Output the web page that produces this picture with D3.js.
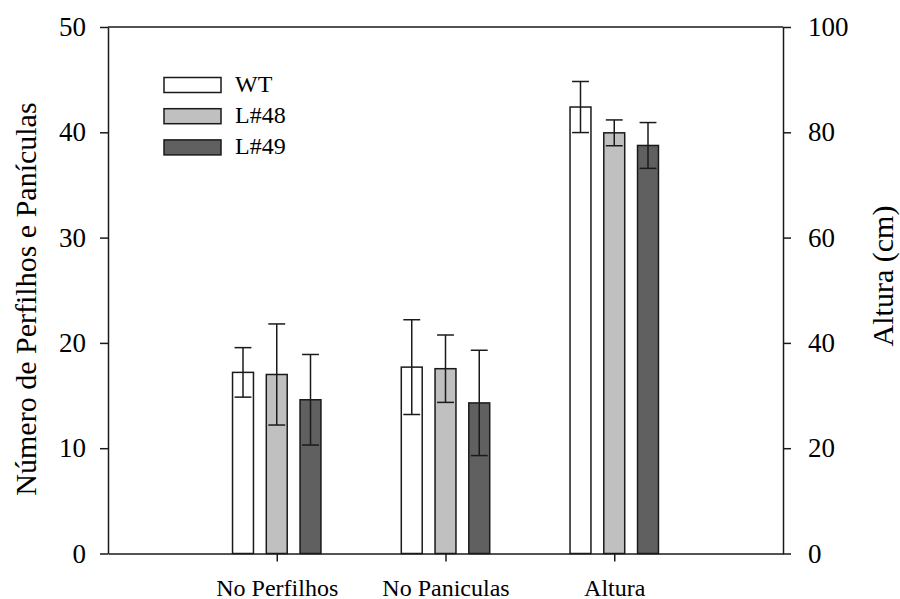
<!DOCTYPE html>
<html><head><meta charset="utf-8">
<script src="https://cdn.jsdelivr.net/npm/d3@7/dist/d3.min.js"></script>
<style>body{margin:0;background:#fff}svg{display:block}text{font-family:"Liberation Serif","Times New Roman",serif;fill:#000}</style>
</head><body><svg id="c" width="900" height="599"></svg>
<script>
const categories = ["No Perfilhos", "No Paniculas", "Altura"];
const seriesNames = ["WT", "L#48", "L#49"];
const seriesColors = ["#ffffff", "#c0c0c0", "#606060"];
const wtMeans = [17.2, 17.7, 84.8];
const wtErr = [2.35, 4.5, 4.85];
const l48Means = [17.0, 17.55, 79.9];
const l48Err = [4.8, 3.2, 2.45];
const l49Means = [14.6, 14.3, 77.5];
const l49Err = [4.3, 5.0, 4.35];
const leftTicks = [0, 10, 20, 30, 40, 50];
const rightTicks = [0, 20, 40, 60, 80, 100];
// category index 2 (Altura) is plotted on the right axis
const rightAxisCats = [false, false, true];

const svg = d3.select("#c");
const L = 108, R = 783, T = 27, B = 553.5;
const x = d3.scaleLinear().domain([0, 4]).range([L, R]);
const yL = d3.scaleLinear().domain([0, 50]).range([B, T]);
const yR = d3.scaleLinear().domain([0, 100]).range([B, T]);
const stroke = "#1a1a1a";

const means = [wtMeans, l48Means, l49Means];
const errs = [wtErr, l48Err, l49Err];
const offsets = [-0.2, 0, 0.2];
const bw = 0.124;
const capW = 0.1;

const bars = [];
categories.forEach((c, ci) => {
  seriesNames.forEach((s, si) => {
    bars.push({ci, si, m: means[si][ci], e: errs[si][ci], y: rightAxisCats[ci] ? yR : yL});
  });
});

const g = svg.append("g");
g.selectAll("rect.bar").data(bars).join("rect")
  .attr("x", d => x(d.ci + 1 + offsets[d.si] - bw / 2))
  .attr("width", d => x(bw) - x(0))
  .attr("y", d => d.y(d.m))
  .attr("height", d => B - d.y(d.m))
  .attr("fill", d => seriesColors[d.si])
  .attr("stroke", stroke).attr("stroke-width", 1.5);

const eb = g.selectAll("g.eb").data(bars).join("g").attr("stroke", stroke).attr("stroke-width", 1.5);
eb.append("line")
  .attr("x1", d => x(d.ci + 1 + offsets[d.si])).attr("x2", d => x(d.ci + 1 + offsets[d.si]))
  .attr("y1", d => d.y(d.m + d.e)).attr("y2", d => d.y(d.m - d.e));
eb.append("line")
  .attr("x1", d => x(d.ci + 1 + offsets[d.si] - capW / 2)).attr("x2", d => x(d.ci + 1 + offsets[d.si] + capW / 2))
  .attr("y1", d => d.y(d.m + d.e)).attr("y2", d => d.y(d.m + d.e));
eb.append("line")
  .attr("x1", d => x(d.ci + 1 + offsets[d.si] - capW / 2)).attr("x2", d => x(d.ci + 1 + offsets[d.si] + capW / 2))
  .attr("y1", d => d.y(d.m - d.e)).attr("y2", d => d.y(d.m - d.e));

// frame top line
svg.append("line").attr("x1", L).attr("x2", R).attr("y1", T).attr("y2", T).attr("stroke", stroke).attr("stroke-width", 1.5);

const ax = svg.append("g").attr("transform", `translate(0,${B})`)
  .call(d3.axisBottom(x).tickValues([1, 2, 3]).tickFormat(d => categories[d - 1]).tickSize(8).tickSizeOuter(0));
const axL = svg.append("g").attr("transform", `translate(${L},0)`)
  .call(d3.axisLeft(yL).tickValues(leftTicks).tickSize(8).tickSizeOuter(0).tickPadding(14));
const axR = svg.append("g").attr("transform", `translate(${R},0)`)
  .call(d3.axisRight(yR).tickValues(rightTicks).tickSize(8).tickSizeOuter(0).tickPadding(17));
[ax, axL, axR].forEach(a => {
  a.selectAll("path,line").attr("stroke", stroke).attr("stroke-width", 1.5);
  a.attr("font-family", null).attr("font-size", null);
});
ax.selectAll("text").attr("font-size", 24).attr("dy", null).attr("y", 42);
axL.selectAll("text").attr("font-size", 27);
axR.selectAll("text").attr("font-size", 27);

svg.append("text").attr("transform", "translate(36,299) rotate(-90)").attr("text-anchor", "middle")
  .attr("font-size", 30).text("Número de Perfilhos e Panículas");
svg.append("text").attr("transform", "translate(893,276) rotate(-90)").attr("text-anchor", "middle")
  .attr("font-size", 30).text("Altura (cm)");

const leg = svg.append("g");
seriesNames.forEach((s, i) => {
  leg.append("rect").attr("x", 164).attr("y", 77.5 + i * 31.2).attr("width", 57).attr("height", 15)
    .attr("fill", seriesColors[i]).attr("stroke", stroke).attr("stroke-width", 1.5);
  leg.append("text").attr("x", 235).attr("y", 92 + i * 31.2).attr("font-size", 24).text(s);
});
</script></body></html>
